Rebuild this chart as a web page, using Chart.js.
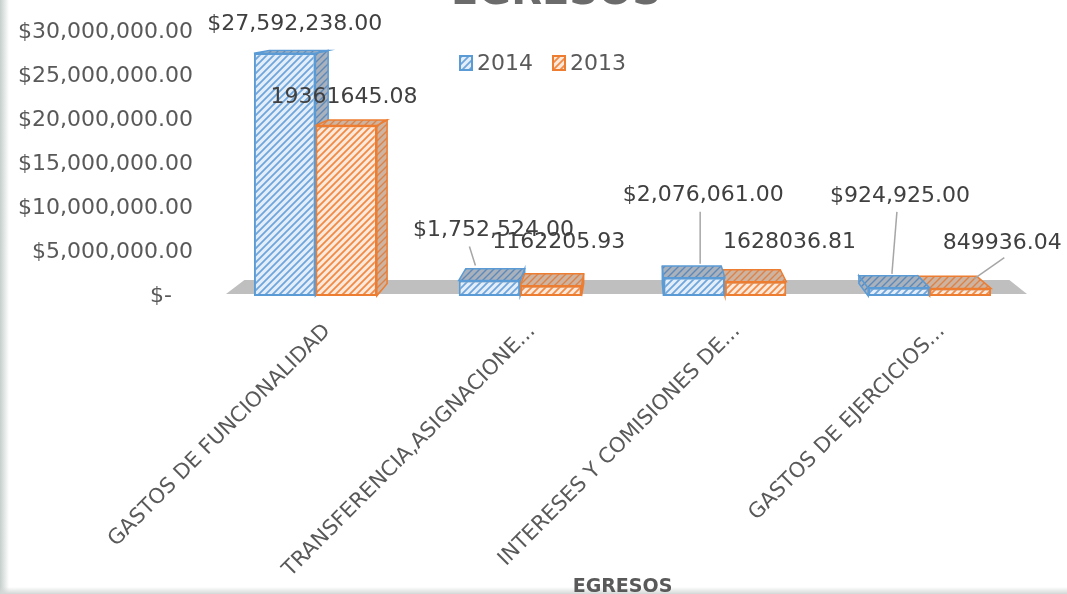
<!DOCTYPE html>
<html>
<head>
<meta charset="utf-8">
<title>Egresos</title>
<script src="https://cdn.jsdelivr.net/npm/chart.js@4.4.1/dist/chart.umd.min.js"></script>
<style>
  html, body { margin: 0; padding: 0; background: #fff; }
  #wrap {
    position: relative; width: 1067px; height: 594px;
    background:
      linear-gradient(to top, #d3d8d6 0, rgba(255,255,255,0) 7px),
      linear-gradient(to right, #c6cfcc 0, #ffffff 9px);
  }
  canvas { display: block; }
</style>
</head>
<body>
<div id="wrap"><canvas id="chart" width="1067" height="594"></canvas></div>
<script>
// --- data ---
const categories = [
    'GASTOS DE FUNCIONALIDAD',
    'TRANSFERENCIA,ASIGNACIONE...',
    'INTERESES Y COMISIONES DE...',
    'GASTOS DE EJERCICIOS...'
];
const seriesNames = ['2014', '2013'];
const values2014 = [27592238.00, 1752524.00, 2076061.00, 924925.00];
const values2013 = [19361645.08, 1162205.93, 1628036.81, 849936.04];
const yTickValues = [0, 5000000, 10000000, 15000000, 20000000, 25000000, 30000000];
const yTickLabels = ['$-   ', '$5,000,000.00', '$10,000,000.00', '$15,000,000.00',
                     '$20,000,000.00', '$25,000,000.00', '$30,000,000.00'];

// label placement relative to the top of each bar (dx, dy of label centre)
const labelPos = [
    [[10, -29], [4, -50], [9, -82], [1, -92]],
    [[-2, -28], [8, -43], [34, -39], [42, -45]]
];
// leader lines, relative to the bar top: [x1, y1, x2, y2]
const leaders = [
    [null, [-20, -34, -14, -15], [6, -66, 6, -14], [-2, -76, -7, -14]],
    [null, null, null, [44, -31, 14, -10]]
];

const TEXT = '#595959';
const FONT = '"DejaVu Sans", sans-serif';
Chart.defaults.font.family = FONT;

const canvas = document.getElementById('chart');
const ctx = canvas.getContext('2d');

function stripes(bg, fg, w) {
    const c = document.createElement('canvas');
    c.width = 7; c.height = 7;
    const g = c.getContext('2d');
    g.fillStyle = bg;
    g.fillRect(0, 0, 7, 7);
    g.strokeStyle = fg;
    g.lineWidth = w;
    g.beginPath();
    g.moveTo(-1, 8); g.lineTo(8, -1);
    g.moveTo(-1, 1); g.lineTo(1, -1);
    g.moveTo(6, 8); g.lineTo(8, 6);
    g.stroke();
    return ctx.createPattern(c, 'repeat');
}

const colors = ['#5b9bd5', '#ed7d31'];
const frontFill = [stripes('#e4eef9', '#6fa5db', 1.8), stripes('#fde9db', '#f08a45', 1.8)];
const sideFill = [stripes('#a9b2bc', '#5d88b8', 1.4), stripes('#cdb3a0', '#db8248', 1.4)];

function fmt2014(v) {
    return '$' + v.toLocaleString('en-US', { minimumFractionDigits: 2, maximumFractionDigits: 2 });
}
function fmt2013(v) {
    return v.toFixed(2);
}
const formatters = [fmt2014, fmt2013];

function vanish(chart) {
    const a = chart.chartArea;
    return { x: a.left + (a.right - a.left) * 0.515, y: -16 };
}
function toBack(p, vp, s) {
    return { x: p.x + (vp.x - p.x) * s, y: p.y + (vp.y - p.y) * s };
}
function poly(c, pts, fill, stroke) {
    c.beginPath();
    c.moveTo(pts[0].x, pts[0].y);
    for (let i = 1; i < pts.length; i++) c.lineTo(pts[i].x, pts[i].y);
    c.closePath();
    c.fillStyle = fill;
    c.fill();
    if (stroke) {
        c.strokeStyle = stroke;
        c.lineWidth = 1.5;
        c.stroke();
    }
}

// floor and the hidden 3d faces, drawn before the front faces
const depthPlugin = {
    id: 'depth',
    beforeDatasetsDraw(chart) {
        const c = chart.ctx;
        const a = chart.chartArea;
        const vp = vanish(chart);
        c.save();
        const fl = { x: a.left + 13, y: a.bottom - 2 };
        const fr = { x: a.right - 5, y: a.bottom - 2 };
        poly(c, [fl, fr, toBack(fr, vp, 0.045), toBack(fl, vp, 0.045)], '#bfbfbf');

        const bars = [];
        chart.data.datasets.forEach((ds, di) => {
            chart.getDatasetMeta(di).data.forEach(el => bars.push({ el, di }));
        });
        bars.sort((p, q) => Math.abs(q.el.x - vp.x) - Math.abs(p.el.x - vp.x));
        bars.forEach(({ el, di }) => {
            const l = el.x - el.width / 2, r = el.x + el.width / 2;
            const tl = { x: l, y: el.y }, tr = { x: r, y: el.y };
            const bl = { x: l, y: el.base }, br = { x: r, y: el.base };
            const s = 0.04;
            if (r < vp.x) {
                poly(c, [tr, br, toBack(br, vp, s), toBack(tr, vp, s)], sideFill[di], colors[di]);
            }
            if (l > vp.x) {
                poly(c, [tl, bl, toBack(bl, vp, s), toBack(tl, vp, s)], sideFill[di], colors[di]);
            }
            poly(c, [tl, tr, toBack(tr, vp, s), toBack(tl, vp, s)], sideFill[di], colors[di]);
        });
        c.restore();
    },
    afterDatasetsDraw(chart) {
        const c = chart.ctx;
        c.save();
        c.font = '22px ' + FONT;
        c.textAlign = 'center';
        c.textBaseline = 'middle';
        chart.data.datasets.forEach((ds, di) => {
            chart.getDatasetMeta(di).data.forEach((el, i) => {
                const ld = leaders[di][i];
                if (ld) {
                    c.strokeStyle = '#a6a6a6';
                    c.lineWidth = 1.5;
                    c.beginPath();
                    c.moveTo(el.x + ld[0], el.y + ld[1]);
                    c.lineTo(el.x + ld[2], el.y + ld[3]);
                    c.stroke();
                }
                const p = labelPos[di][i];
                c.fillStyle = '#404040';
                c.fillText(formatters[di](ds.data[i]), el.x + p[0], el.y + p[1]);
            });
        });
        c.restore();
    },
    afterDraw(chart) {
        const c = chart.ctx;
        c.save();
        // chart title, cut off by the top edge like in the source
        c.font = 'bold 40px ' + FONT;
        c.fillStyle = '#6b6b6b';
        c.textAlign = 'center';
        c.textBaseline = 'alphabetic';
        c.fillText('EGRESOS', 556, 4);

        // legend
        c.font = '22px ' + FONT;
        c.textBaseline = 'middle';
        c.textAlign = 'left';
        const widths = seriesNames.map(n => c.measureText(n).width);
        const box = 12, gap = 5, space = 20;
        const total = widths.reduce((s, w) => s + box + gap + w, 0) + space;
        let x = 543 - total / 2;
        const y = 63;
        seriesNames.forEach((n, i) => {
            c.fillStyle = frontFill[i];
            c.fillRect(x, y - 7, box, 14);
            c.strokeStyle = colors[i];
            c.lineWidth = 2;
            c.strokeRect(x, y - 7, box, 14);
            c.fillStyle = TEXT;
            c.fillText(n, x + box + gap, y + 1);
            x += box + gap + widths[i] + space;
        });
        c.restore();
    }
};

new Chart(canvas, {
    type: 'bar',
    data: {
        labels: categories,
        datasets: [
            {
                label: seriesNames[0],
                data: values2014,
                backgroundColor: frontFill[0],
                borderColor: colors[0],
                borderWidth: 2,
                borderSkipped: false,
                categoryPercentage: 0.6,
                barPercentage: 1.0
            },
            {
                label: seriesNames[1],
                data: values2013,
                backgroundColor: frontFill[1],
                borderColor: colors[1],
                borderWidth: 2,
                borderSkipped: false,
                categoryPercentage: 0.6,
                barPercentage: 1.0
            }
        ]
    },
    options: {
        responsive: false,
        animation: false,
        layout: { padding: { left: 0, right: 35, top: 32, bottom: 0 } },
        plugins: {
            legend: { display: false },
            tooltip: { enabled: false }
        },
        scales: {
            x: {
                grid: { display: false },
                border: { display: false },
                afterFit(scale) {
                    // the rotated labels need more than half of the canvas height
                    scale.height = 298;
                },
                ticks: {
                    color: TEXT,
                    font: { size: 21 },
                    minRotation: 45,
                    maxRotation: 45,
                    autoSkip: false,
                    padding: 15,
                    labelOffset: 12
                },
                title: {
                    display: true,
                    text: 'EGRESOS',
                    color: TEXT,
                    font: { size: 19, weight: 'bold' },
                    padding: { top: 0, bottom: -4 }
                }
            },
            y: {
                min: 0,
                max: 30000000,
                grid: { display: false },
                border: { display: false },
                afterBuildTicks(scale) {
                    scale.ticks = yTickValues.map(v => ({ value: v }));
                },
                afterFit(scale) {
                    scale.width = 213;
                },
                ticks: {
                    color: TEXT,
                    font: { size: 22 },
                    padding: 12,
                    callback: (v) => yTickLabels[yTickValues.indexOf(v)]
                }
            }
        }
    },
    plugins: [depthPlugin]
});
</script>
</body>
</html>
